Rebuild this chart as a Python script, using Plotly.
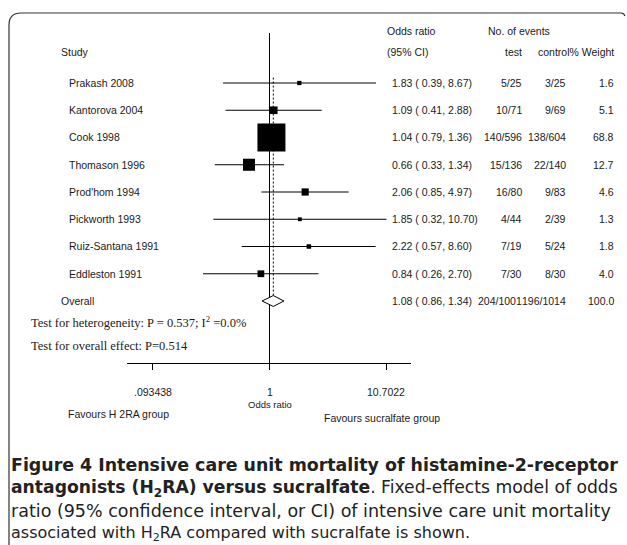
import numpy as np
import plotly.graph_objects as go

W, H = 627, 545

# ---------------- data ----------------
studies = ["Prakash 2008", "Kantorova 2004", "Cook 1998", "Thomason 1996",
           "Prod'hom 1994", "Pickworth 1993", "Ruiz-Santana 1991", "Eddleston 1991"]
odds_ratio = [1.83, 1.09, 1.04, 0.66, 2.06, 1.85, 2.22, 0.84]
ci_low = [0.39, 0.41, 0.79, 0.33, 0.85, 0.32, 0.57, 0.26]
ci_high = [8.67, 2.88, 1.36, 1.34, 4.97, 10.70, 8.60, 2.70]
events_test = ["5/25", "10/71", "140/596", "15/136", "16/80", "4/44", "7/19", "7/30"]
events_control = ["3/25", "9/69", "138/604", "22/140", "9/83", "2/39", "5/24", "8/30"]
weights = [1.6, 5.1, 68.8, 12.7, 4.6, 1.3, 1.8, 4.0]

overall_label = "Overall"
overall_or, overall_low, overall_high = 1.08, 0.86, 1.34
overall_test, overall_control, overall_weight = "204/1001", "196/1014", "100.0"

tick_values = [0.093438, 1, 10.7022]
tick_labels = [".093438", "1", "10.7022"]

heterogeneity_text = "Test for heterogeneity: P = 0.537; I<sup>2</sup> =0.0%"
overall_effect_text = "Test for overall effect: P=0.514"
caption_lines = [
    "<b>Figure 4 Intensive care unit mortality of histamine-2-receptor</b>",
    "<b>antagonists (H<sub>2</sub>RA) versus sucralfate</b>. Fixed-effects model of odds",
    "ratio (95% confidence interval, or CI) of intensive care unit mortality",
    "associated with H<sub>2</sub>RA compared with sucralfate is shown.",
]

# ---------------- helpers ----------------
def px(x):
    return x / W

def py(y):
    return 1 - y / H

SANS = "Liberation Sans, Arial, sans-serif"
SERIF = "Liberation Serif, Times New Roman, serif"
CAP = "DejaVu Sans, sans-serif"
TXT = "#1a1a1a"
FS = 10.5

n = len(studies)
rows = list(range(n))
overall_row = n

# axis geometry (pixels)
x_one = 269.5
px_per_dec = 113.6
ax_left, ax_right = 127, 411
y_top, y_bottom = 33, 363
row0_px, row_step = 83, 27.25

x_range = [(ax_left - x_one) / px_per_dec, (ax_right - x_one) / px_per_dec]
y_range = [(y_bottom - row0_px) / row_step, (y_top - row0_px) / row_step]

fig = go.Figure()

# solid line at OR = 1
fig.add_trace(go.Scatter(x=[1, 1], y=y_range, mode="lines",
                         line=dict(color="black", width=1), hoverinfo="skip",
                         showlegend=False, cliponaxis=False))
# dotted line at overall OR
fig.add_trace(go.Scatter(x=[overall_or, overall_or], y=[-0.2, overall_row - 0.2], mode="lines",
                         line=dict(color="black", width=1, dash="2px,2px"), hoverinfo="skip",
                         showlegend=False))

# CI lines and squares
ref_w = max(weights)
sizes = [28 * np.sqrt(w / ref_w) for w in weights]
fig.add_trace(go.Scatter(
    x=odds_ratio, y=rows, mode="markers",
    marker=dict(symbol="square", size=sizes, color="black", opacity=1, line=dict(width=0)),
    error_x=dict(type="data", symmetric=False,
                 array=[h - o for h, o in zip(ci_high, odds_ratio)],
                 arrayminus=[o - l for o, l in zip(odds_ratio, ci_low)],
                 color="black", thickness=1, width=0),
    showlegend=False, cliponaxis=False))

# overall diamond
hh = 0.2
fig.add_trace(go.Scatter(
    x=[overall_low, overall_or, overall_high, overall_or, overall_low],
    y=[overall_row, overall_row - hh, overall_row, overall_row + hh, overall_row],
    mode="lines", line=dict(color="black", width=1), fill="toself", fillcolor="white",
    showlegend=False, hoverinfo="skip", cliponaxis=False))

ann = []

def add_text(text, x, y, xanchor="left", size=FS, family=SANS, yref="paper", color=TXT):
    ann.append(dict(text=text, x=x, y=y, xref="paper", yref=yref, xanchor=xanchor,
                    yanchor="middle", showarrow=False,
                    font=dict(size=size, family=family, color=color)))

# headers
add_text("Study", px(59), py(52))
add_text("Odds ratio", px(385), py(31))
add_text("(95% CI)", px(385), py(52))
add_text("No. of events", px(486), py(31))
add_text("test", px(524), py(52), xanchor="right")
add_text("control% Weight", px(616), py(52), xanchor="right")

# study rows
for i in rows:
    add_text(studies[i], px(67), i, yref="y")
    add_text(f"{odds_ratio[i]:.2f} ( {ci_low[i]:.2f}, {ci_high[i]:.2f})", px(390), i, yref="y")
    add_text(events_test[i], px(524), i, xanchor="right", yref="y")
    add_text(events_control[i], px(568), i, xanchor="right", yref="y")
    add_text(f"{weights[i]:.1f}", px(616), i, xanchor="right", yref="y")

# overall row
add_text(overall_label, px(59), overall_row, yref="y")
add_text(f"{overall_or:.2f} ( {overall_low:.2f}, {overall_high:.2f})", px(390), overall_row, yref="y")
add_text(overall_test, px(524), overall_row, xanchor="right", yref="y")
add_text(overall_control, px(568), overall_row, xanchor="right", yref="y")
add_text(overall_weight, px(616), overall_row, xanchor="right", yref="y")

# tests
add_text(heterogeneity_text, px(29), py(322), size=12.5, family=SERIF)
add_text(overall_effect_text, px(29), py(346), size=12.5, family=SERIF)

# tick labels
for v, t in zip(tick_values, tick_labels):
    ann.append(dict(text=t, x=np.log10(v), y=py(392), xref="x", yref="paper",
                    xanchor="center", yanchor="middle", showarrow=False,
                    font=dict(size=FS, family=SANS, color=TXT)))
ann.append(dict(text="Odds ratio", x=0, y=py(404), xref="x", yref="paper",
                xanchor="center", yanchor="middle", showarrow=False,
                font=dict(size=9.5, family=SANS, color=TXT)))
add_text("Favours H 2RA group", px(118), py(414), xanchor="center")
add_text("Favours sucralfate group", px(382), py(418), xanchor="center")

# caption
cap_y = [465, 488, 511, 533]
cap_sizes = [17.4, 17.2, 17.5, 16.0]
for line, yy, fs in zip(caption_lines, cap_y, cap_sizes):
    add_text(line, px(9), py(yy), size=fs, family=CAP, color="#222")

# frame
r = 12
fx0, fy0 = 9, 13
path = (f"M {px(fx0)},{py(H)} L {px(fx0)},{py(fy0 + r)} "
        f"Q {px(fx0)},{py(fy0)} {px(fx0 + r)},{py(fy0)} "
        f"L {px(621)},{py(fy0)} Q {px(624)},{py(fy0)} {px(625)},{py(fy0 + 3)}")
shapes = [dict(type="path", path=path, xref="paper", yref="paper",
               line=dict(color="#333", width=1.2))]

fig.update_layout(
    width=W, height=H,
    margin=dict(l=0, r=0, t=0, b=0),
    paper_bgcolor="white", plot_bgcolor="rgba(0,0,0,0)",
    showlegend=False,
    annotations=ann, shapes=shapes,
    xaxis=dict(type="log", domain=[px(ax_left), px(ax_right)], range=x_range,
               showgrid=False, zeroline=False, showline=True, linecolor="black",
               linewidth=1, ticks="outside", ticklen=6, tickwidth=1, tickcolor="black",
               tickvals=tick_values, showticklabels=False, fixedrange=True),
    yaxis=dict(domain=[py(y_bottom), py(y_top)], range=y_range, visible=False,
               showgrid=False, zeroline=False, fixedrange=True),
)

fig.write_html("out.html", config={"displayModeBar": False},
               post_script="document.body.style.margin='0';document.body.style.overflow='hidden';")
